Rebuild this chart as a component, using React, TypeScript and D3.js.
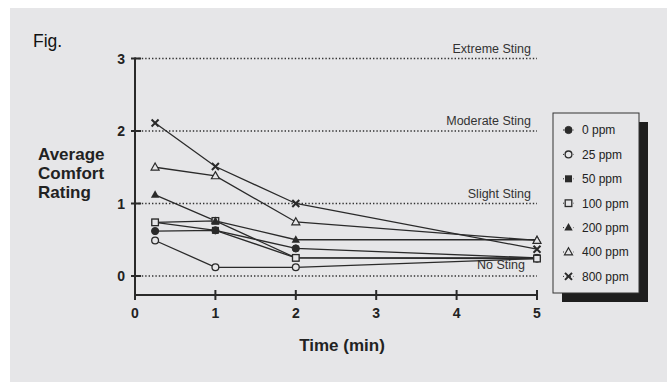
import React from "react";
import * as d3 from "d3";

// time points (min)
const times = [0.25, 1, 2, 5];

// average comfort rating per concentration
const ppm0 = [0.62, 0.63, 0.38, 0.25];
const ppm25 = [0.49, 0.12, 0.12, 0.24];
const ppm50 = [0.74, 0.63, 0.25, 0.25];
const ppm100 = [0.74, 0.76, 0.25, 0.24];
const ppm200 = [1.12, 0.76, 0.5, 0.5];
const ppm400 = [1.5, 1.38, 0.745, 0.49];
const ppm800 = [2.11, 1.51, 1.0, 0.37];

const seriesNames = ["0 ppm", "25 ppm", "50 ppm", "100 ppm", "200 ppm", "400 ppm", "800 ppm"];
const seriesValues = [ppm0, ppm25, ppm50, ppm100, ppm200, ppm400, ppm800];
const seriesMarkers = ["circleFill", "circleOpen", "squareFill", "squareOpen", "triFill", "triOpen", "cross"];

const refLevels = [3, 2, 1, 0];
const refLabels = ["Extreme Sting", "Moderate Sting", "Slight Sting", "No Sting"];
const xTicks = [0, 1, 2, 3, 4, 5];
const yTicks = [0, 1, 2, 3];

const W = 667;
const H = 382;
const BG = "#e6e6e8";
const INK = "#2a2a2a";
const FONT = "'Liberation Sans', Arial, Helvetica, sans-serif";

function Marker({ kind, x, y }: { kind: string; x: number; y: number }) {
  const open = BG;
  switch (kind) {
    case "circleFill":
      return <circle cx={x} cy={y} r={3.6} fill={INK} stroke={INK} strokeWidth={1} />;
    case "circleOpen":
      return <circle cx={x} cy={y} r={3.4} fill={open} stroke={INK} strokeWidth={1.3} />;
    case "squareFill":
      return <rect x={x - 3.5} y={y - 3.5} width={7} height={7} fill={INK} />;
    case "squareOpen":
      return <rect x={x - 3.3} y={y - 3.3} width={6.6} height={6.6} fill={open} stroke={INK} strokeWidth={1.3} />;
    case "triFill":
      return <path d={`M${x},${y - 4.5}L${x + 4.2},${y + 3}L${x - 4.2},${y + 3}Z`} fill={INK} />;
    case "triOpen":
      return <path d={`M${x},${y - 4.3}L${x + 4},${y + 2.8}L${x - 4},${y + 2.8}Z`} fill={open} stroke={INK} strokeWidth={1.2} />;
    default:
      return (
        <path d={`M${x - 3.5},${y - 3.5}L${x + 3.5},${y + 3.5}M${x + 3.5},${y - 3.5}L${x - 3.5},${y + 3.5}`} stroke={INK} strokeWidth={2} />
      );
  }
}

export default function App() {
  const x = d3.scaleLinear().domain([0, 5]).range([135, 537]);
  const y = d3.scaleLinear().domain([0, 3]).range([276, 58.5]);
  const axisY = 295;

  const line = d3
    .line<number>()
    .x((_, i) => x(times[i]))
    .y((d) => y(d));

  const legX = 553;
  const legY = 113;
  const legW = 86;
  const legH = 180;
  const legRow = 24.4;

  return (
    <svg width={W} height={H} style={{ position: "absolute", left: 0, top: 0 }} fontFamily={FONT}>
      <rect x={0} y={0} width={W} height={H} fill="#ffffff" />
      <rect x={10} y={8} width={W - 10} height={H - 8} fill={BG} />

      <text x={33} y={47} fontSize={17.5} fill="#111">Fig.</text>

      {/* y title */}
      <g fontSize={17} fontWeight="bold" fill="#222">
        <text x={38} y={160}>Average</text>
        <text x={38} y={179}>Comfort</text>
        <text x={38} y={198}>Rating</text>
      </g>

      {/* reference lines */}
      {refLevels.map((v, i) => (
        <g key={v}>
          <line x1={x(0)} x2={x(5)} y1={y(v)} y2={y(v)} stroke="#333" strokeWidth={1.3} strokeDasharray="1.4,2" />
          <text
            x={v === 0 ? x(5) - 12 : x(5) - 6}
            y={y(v) - (v === 0 ? 7 : 6)}
            textAnchor="end"
            fontSize={12.5}
            fill="#333"
          >
            {refLabels[i]}
          </text>
        </g>
      ))}

      {/* axes */}
      <line x1={x(0)} x2={x(0)} y1={y(3) - 1} y2={axisY + 5} stroke={INK} strokeWidth={2} />
      <line x1={x(0)} x2={x(5)} y1={axisY} y2={axisY} stroke={INK} strokeWidth={2} />
      {yTicks.map((t) => (
        <g key={t}>
          <line x1={x(0) - 4} x2={x(0) + 6} y1={y(t)} y2={y(t)} stroke={INK} strokeWidth={2} />
          <text x={125} y={y(t)} dy="0.36em" textAnchor="end" fontSize={14} fontWeight="bold" fill="#222">
            {t}
          </text>
        </g>
      ))}
      {xTicks.map((t) => (
        <g key={t}>
          <line x1={x(t)} x2={x(t)} y1={axisY - 5} y2={axisY + 5} stroke={INK} strokeWidth={2} />
          <text x={x(t)} y={318} textAnchor="middle" fontSize={14} fontWeight="bold" fill="#222">
            {t}
          </text>
        </g>
      ))}
      <text x={342} y={351} textAnchor="middle" fontSize={17} fontWeight="bold" fill="#222">
        Time (min)
      </text>

      {/* series lines */}
      {seriesValues.map((vals, s) => (
        <path key={s} d={line(vals) || ""} fill="none" stroke={INK} strokeWidth={1.3} />
      ))}
      {/* markers */}
      {seriesValues.map((vals, s) => (
        <g key={s}>
          {vals.map((v, i) => (
            <Marker key={i} kind={seriesMarkers[s]} x={x(times[i])} y={y(v)} />
          ))}
        </g>
      ))}

      {/* legend */}
      <rect x={legX + 9} y={legY + 9} width={legW} height={legH} fill="#1e1e1e" />
      <rect x={legX} y={legY} width={legW} height={legH} fill={BG} stroke="#333" strokeWidth={1} />
      {seriesNames.map((name, s) => {
        const cy = legY + 17 + s * legRow;
        return (
          <g key={name}>
            <line x1={legX + 10} x2={legX + 21} y1={cy} y2={cy} stroke={INK} strokeWidth={1} strokeDasharray="1,2.5" />
            <Marker kind={seriesMarkers[s]} x={legX + 15.5} y={cy} />
            <text x={legX + 29} y={cy} dy="0.36em" fontSize={12} fill="#222">
              {name}
            </text>
          </g>
        );
      })}
    </svg>
  );
}
